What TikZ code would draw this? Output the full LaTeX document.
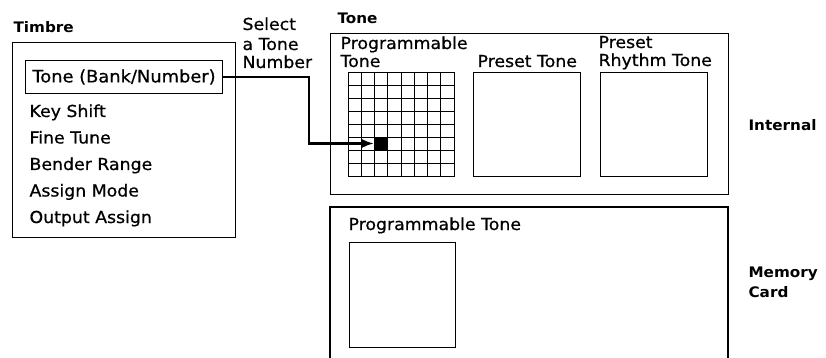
\documentclass[tikz,border=0pt]{standalone}
\usepackage{fontspec}
\setmainfont{DejaVu Sans}[FakeStretch=1.05, UprightFeatures={FakeBold=0.7}]
\usetikzlibrary{positioning,arrows.meta}

\begin{document}
\begin{tikzpicture}[x=1pt, y=-1pt, line width=1.1pt,
  txt/.style={anchor=base west, inner sep=0pt, font=\fontsize{16.5}{19}\selectfont},
  head/.style={anchor=base west, inner sep=0pt, font=\fontsize{14.5}{18}\selectfont\bfseries},
  box/.style={draw, anchor=north west, inner sep=0pt}]
\useasboundingbox (0,0) rectangle (826,358);

% Timbre list
\node[head] (timbrehead) at (13,33) {Timbre};
\node[box, minimum width=223, minimum height=195] (timbre) at (12,42) {};
\node[box, minimum width=197, minimum height=33, font=\fontsize{17}{19}\selectfont] (tonebank) at (25,60) {Tone (Bank/Number)};
\foreach \t [count=\i] in {Key Shift, Fine Tune, Bender Range, Assign Mode, Output Assign}
  \node[txt] (item\i) at (29,90.5+26.5*\i) {\t};

\node[txt] (sel1) at (242,30) {Select};
\node[txt] (sel2) at (242,50) {a Tone};
\node[txt] (sel3) at (242,68) {Number};

% Internal tones
\node[head] (tonehead) at (337,24) {Tone};
\node[box, minimum width=398, minimum height=161] (tonebox) at (330,33) {};
\node[txt] (prog1) at (340,49) {Programmable};
\node[txt] (prog2) at (340,67) {Tone};
\node[txt] (presetlbl) at (477,67) {Preset Tone};
\node[txt] (rhythm1) at (598,48) {Preset};
\node[txt] (rhythm2) at (598,66) {Rhythm Tone};

\node[box, minimum width=106, minimum height=104] (prog) at (348,72) {};
\foreach \i in {1,...,7} {
  \draw[line width=0.9pt] (348+13.25*\i,72) -- ++(0,104);
  \draw[line width=0.9pt] (348,72+13*\i) -- ++(106,0);
}
\node[fill=black, inner sep=0pt, minimum width=13.25, minimum height=13] (pick) at (381.1,143.5) {};
\node[box, minimum width=107, minimum height=104] (preset) at (473,72) {};
\node[box, minimum width=107, minimum height=104] (rhythm) at (600,72) {};
\node[head] (internal) at (748,131) {Internal};

% Memory card
\draw (330,358) |- (728,207) -- (728,358);
\node[txt] (cardlbl) at (348,230) {Programmable Tone};
\node[box, minimum width=106, minimum height=105] (cardprog) at (349,242) {};
\node[head] (mem1) at (748,277) {Memory};
\node[head] (mem2) at (748,297) {Card};

% Arrow
\draw[-{Latex[length=12pt,width=9pt]}, line width=2.2pt] (tonebank.east) -- ++(86,0) |- (pick.west);

\end{tikzpicture}
\end{document}
